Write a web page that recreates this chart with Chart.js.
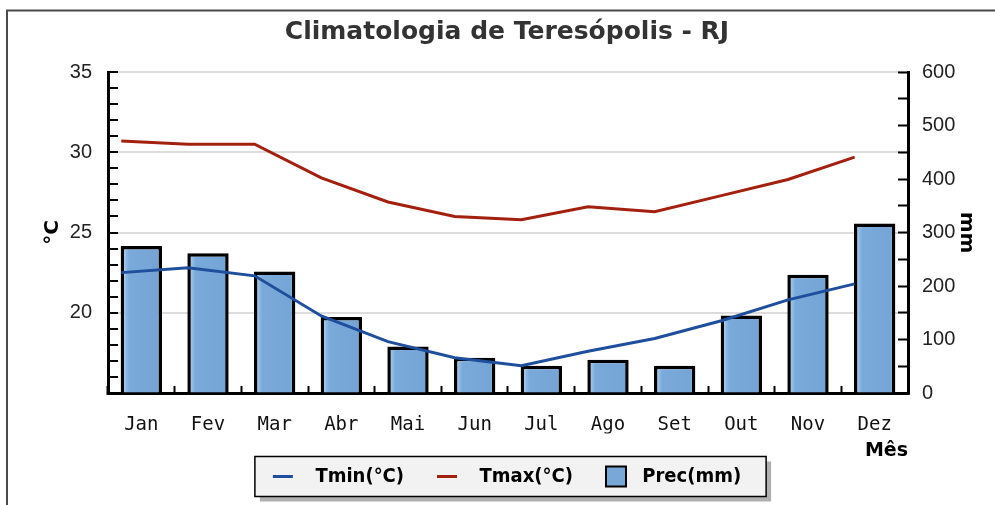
<!DOCTYPE html>
<html>
<head>
<meta charset="utf-8">
<script src="https://cdn.jsdelivr.net/npm/chart.js@4/dist/chart.umd.min.js"></script>
<style>
  html, body { margin: 0; padding: 0; background: #fff; }
  #wrap { width: 995px; height: 505px; }
</style>
</head>
<body>
<div id="wrap"><canvas id="climaChart" width="995" height="505"></canvas></div>
<script>
const months = ['Jan', 'Fev', 'Mar', 'Abr', 'Mai', 'Jun', 'Jul', 'Ago', 'Set', 'Out', 'Nov', 'Dez'];
const tmin = [22.5, 22.8, 22.3, 19.8, 18.2, 17.2, 16.7, 17.6, 18.4, 19.5, 20.8, 21.8];
const tmax = [30.7, 30.5, 30.5, 28.4, 26.9, 26.0, 25.8, 26.6, 26.3, 27.3, 28.3, 29.7];
const prec = [275, 261, 227, 142, 87, 66, 51, 62, 51, 145, 221, 317];

const barColor = '#78a8d8';
const barWidthPct = 0.62;

// bars get a lighter strip on their left side
function barFill(c) {
    const x = c.chart.scales.x;
    if (!x || c.dataIndex == null) return barColor;
    const cx = x.getPixelForValue(c.dataIndex);
    const w = x.width / months.length * barWidthPct;
    const g = c.chart.ctx.createLinearGradient(cx - w / 2, 0, cx + w / 2, 0);
    g.addColorStop(0, '#b8def6');
    g.addColorStop(0.2, '#7aaada');
    g.addColorStop(1, '#74a4d5');
    return g;
}

const framePlugin = {
    id: 'frame',
    beforeDraw(chart) {
        const ctx = chart.ctx;
        ctx.save();
        ctx.strokeStyle = '#4a4a4a';
        ctx.lineWidth = 2;
        ctx.beginPath();
        ctx.moveTo(7, 505);
        ctx.lineTo(7, 10.5);
        ctx.lineTo(995, 10.5);
        ctx.stroke();

        // box behind the legend
        const hb = chart.legend.legendHitBoxes;
        if (hb && hb.length) {
            const last = hb[hb.length - 1];
            const left = hb[0].left - 18;
            const right = last.left + last.width + 25;
            const cy = hb[0].top + hb[0].height / 2;
            const top = cy - 20, h = 40;
            ctx.fillStyle = '#b0b0b0';
            ctx.fillRect(left + 5, top + 5, right - left, h);
            ctx.fillStyle = '#f2f2f2';
            ctx.fillRect(left, top, right - left, h);
            ctx.strokeStyle = '#000';
            ctx.lineWidth = 1.5;
            ctx.strokeRect(left, top, right - left, h);
        }
        ctx.restore();
    }
};

const ctx = document.getElementById('climaChart').getContext('2d');
new Chart(ctx, {
    type: 'line',
    data: {
        labels: months,
        datasets: [
            {
                type: 'line',
                label: 'Tmin(°C)',
                data: tmin.map((v, i) => ({ x: i, y: v })),
                borderColor: '#1f4f9c',
                backgroundColor: '#1f4f9c',
                borderWidth: 3,
                pointRadius: 0,
                tension: 0,
                xAxisID: 'x2',
                yAxisID: 'y',
                order: 1
            },
            {
                type: 'line',
                label: 'Tmax(°C)',
                data: tmax.map((v, i) => ({ x: i, y: v })),
                borderColor: '#a3200f',
                backgroundColor: '#a3200f',
                borderWidth: 3,
                pointRadius: 0,
                tension: 0,
                xAxisID: 'x2',
                yAxisID: 'y',
                order: 1
            },
            {
                type: 'bar',
                label: 'Prec(mm)',
                data: prec,
                backgroundColor: barFill,
                borderColor: '#000',
                borderWidth: 3.5,
                barPercentage: barWidthPct,
                categoryPercentage: 1,
                grouped: false,
                xAxisID: 'x',
                yAxisID: 'y2',
                order: 2
            }
        ]
    },
    options: {
        responsive: false,
        animation: false,
        layout: { padding: { left: 19, right: 0, top: 0, bottom: 8.5 } },
        plugins: {
            title: {
                display: true,
                text: 'Climatologia de Teresópolis - RJ',
                color: '#333',
                font: { family: 'DejaVu Sans', size: 25, weight: 'bold' },
                padding: { top: 17, bottom: 25 }
            },
            legend: {
                display: true,
                position: 'bottom',
                labels: {
                    usePointStyle: true,
                    pointStyleWidth: 20,
                    boxHeight: 20,
                    padding: 33,
                    color: '#000',
                    font: { family: "'DejaVu Sans Condensed', 'DejaVu Sans'", size: 20, weight: 'bold' },
                    generateLabels: (chart) => chart.data.datasets.map((ds, i) => ({
                        text: (ds.type === 'bar' ? ' ' : '  ') + ds.label,
                        datasetIndex: i,
                        fillStyle: ds.type === 'bar' ? barColor : ds.borderColor,
                        strokeStyle: ds.type === 'bar' ? '#000' : ds.borderColor,
                        lineWidth: ds.type === 'bar' ? 2 : 3,
                        pointStyle: ds.type === 'bar' ? 'rect' : 'line',
                        fontColor: '#000',
                        hidden: false
                    }))
                }
            },
            tooltip: { enabled: false }
        },
        scales: {
            x: {
                type: 'category',
                offset: true,
                grid: { offset: true, drawOnChartArea: false, tickLength: -7, tickColor: '#000', tickWidth: 2 },
                border: { color: '#000', width: 3 },
                ticks: { color: '#111', padding: 28, font: { family: 'DejaVu Sans Mono', size: 19 } },
                title: {
                    display: true,
                    text: 'Mês',
                    align: 'end',
                    color: '#000',
                    font: { family: 'DejaVu Sans', size: 19, weight: 'bold' },
                    padding: { top: 0, bottom: -29 }
                },
                afterFit: (s) => { s.height = 40.5; }
            },
            x2: {
                type: 'linear',
                display: false,
                offset: false,
                min: -0.2,
                max: 11.8
            },
            y: {
                position: 'left',
                min: 15,
                max: 35,
                grid: {
                    color: (c) => (c.tick && c.tick.value % 5 === 0 && c.tick.value > 15) ? '#dcdcdc' : 'rgba(0,0,0,0)',
                    lineWidth: 2,
                    tickLength: -10,
                    tickColor: '#000',
                    tickWidth: 2
                },
                border: { color: '#000', width: 3 },
                ticks: {
                    stepSize: 1,
                    autoSkip: false,
                    padding: 26,
                    color: '#222',
                    font: { family: 'Liberation Sans', size: 20 },
                    callback: (v) => (v % 5 === 0 && v > 15) ? v : ''
                },
                title: {
                    display: true,
                    text: '°C',
                    color: '#000',
                    font: { family: 'DejaVu Sans', size: 20, weight: 'bold' },
                    padding: { top: 22, bottom: 0 }
                },
                afterFit: (s) => { s.width = 89; }
            },
            y2: {
                position: 'right',
                min: 0,
                max: 600,
                grid: { drawOnChartArea: false, tickLength: -10, tickColor: '#000', tickWidth: 2 },
                border: { color: '#000', width: 3 },
                ticks: {
                    stepSize: 50,
                    autoSkip: false,
                    padding: 24,
                    color: '#222',
                    font: { family: 'Liberation Sans', size: 20 },
                    callback: (v) => v % 100 === 0 ? v : ''
                },
                title: {
                    display: true,
                    text: 'mm',
                    color: '#000',
                    font: { family: 'DejaVu Sans', size: 20, weight: 'bold' },
                    padding: { top: 17, bottom: 0 }
                },
                afterFit: (s) => { s.width = 87; }
            }
        }
    },
    plugins: [framePlugin]
});
</script>
</body>
</html>
